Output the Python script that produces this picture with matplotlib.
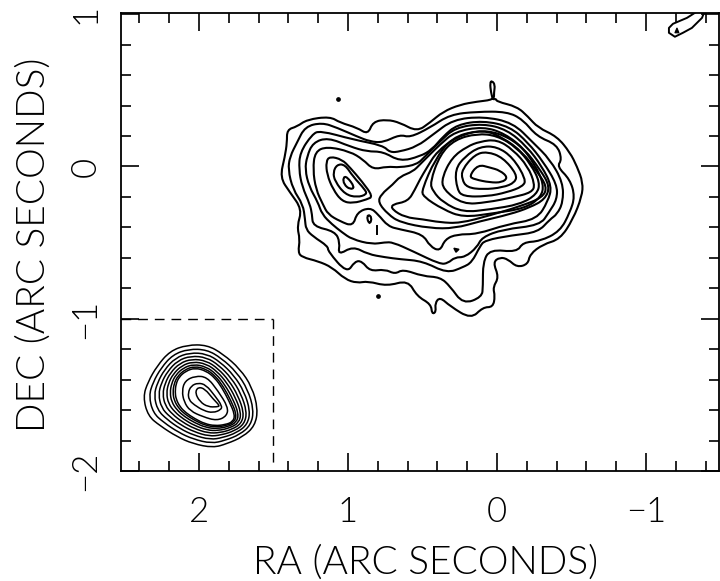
import numpy as np
import matplotlib
matplotlib.use('Agg')
import matplotlib.pyplot as plt
from matplotlib.patches import PathPatch
from matplotlib.path import Path
from matplotlib.ticker import MultipleLocator

# Contour traces, RA and DEC in arc seconds
ra_c1 = [.007, 0, -.134, -.208, -.275, -.403, -.490, -.537, -.577, -.570, -.510, -.423, -.309, -.221, -.208, -.134, -.074, -.020, .027, -.013, .027, .013, .027, .094, .174, .315, .382, .416, .409, .436, .443, .537, .597, .738, .866, .939, 1.020, 1.107, 1.201, 1.308, 1.335, 1.322, 1.342, 1.308, 1.389, 1.456, 1.423, 1.409, 1.409, 1.342, 1.275, 1.121, 1.053, .939, .866, .832, .738, .651, .537, .450, .362, .248, .134, .020, .020, .013, .034, .047, .040, .027]
dec_c1 = [.445, .426, .393, .328, .255, .197, .092, 0, -.105, -.197, -.347, -.478, -.511, -.576, -.642, -.662, -.609, -.596, -.629, -.727, -.793, -.852, -.924, -.924, -1.002, -.917, -.858, -.897, -.956, -.969, -.904, -.852, -.747, -.786, -.753, -.766, -.740, -.662, -.622, -.596, -.563, -.478, -.393, -.282, -.170, -.072, .066, .157, .242, .262, .308, .328, .288, .255, .210, .295, .308, .288, .229, .288, .360, .406, .426, .439, .485, .537, .563, .550, .485, .439]

ra_c2 = [1.389, 1.342, 1.288, 1.174, 1.074, .939, .852, .765, .651, .584, .450, .315, .134, -.067, -.174, -.268, -.403, -.436, -.403, -.490, -.523, -.490, -.423, -.289, -.174, -.134, .047, .094, .094, .101, .228, .315, .382, .497, .631, .684, .752, .852, .906, .953, 1.007, 1.134, 1.134, 1.235, 1.282, 1.288, 1.302, 1.369, 1.402]
dec_c2 = [.066, .157, .262, .288, .255, .197, .164, .157, .210, .190, .255, .341, .360, .360, .308, .197, .144, .046, 0, -.085, -.197, -.301, -.426, -.491, -.498, -.563, -.544, -.629, -.786, -.858, -.904, -.786, -.727, -.721, -.675, -.707, -.675, -.688, -.622, -.622, -.701, -.557, -.524, -.459, -.413, -.347, -.249, -.151, -.020]

ra_c3 = [1.329, 1.322, 1.241, 1.188, .966, .765, .718, .651, .537, .429, .295, .094, -.107, -.242, -.356, -.443, -.443, -.403, -.356, -.275, -.101, .081, .114, .168, .228, .336, .497, .651, .752, .866, .966, 1.067, 1.053, 1.087, 1.235, 1.241, 1.255, 1.308]
dec_c3 = [-.020, .092, .210, .236, .177, .138, .092, .098, .131, .210, .308, .328, .288, .157, .046, -.105, -.236, -.314, -.347, -.432, -.452, -.485, -.524, -.629, -.662, -.701, -.622, -.609, -.596, -.576, -.524, -.583, -.498, -.426, -.393, -.314, -.249, -.131]

ra_c4 = [1.288, 1.261, 1.201, 1.174, 1.107, 1.040, .973, .839, .752, .698, .564, .382, .329, .282, .215, .134, .101, -.040, -.289, -.349, -.403, -.403, -.309, -.208, -.087, .094, .268, .362, .436, .517, .651, .765, .872, .986, 1.134, 1.235, 1.275]
dec_c4 = [-.020, -.131, -.236, -.314, -.380, -.432, -.478, -.511, -.498, -.498, -.557, -.642, -.635, -.596, -.596, -.531, -.465, -.413, -.386, -.301, -.216, -.118, .033, .157, .262, .301, .275, .197, .111, .066, .033, .098, .098, .131, .190, .157, .066]

ra_c5 = [1.235, 1.215, 1.168, 1.134, 1.053, .966, .939, .852, .798, .731, .651, .497, .450, .382, .349, .268, .134, -.067, -.268, -.342, -.369, -.302, -.201, -.067, .094, .282, .382, .483, .537, .651, .738, .832, .899, .986, 1.141, 1.221]
dec_c5 = [-.020, -.151, -.249, -.314, -.360, -.393, -.301, -.269, -.314, -.393, -.413, -.445, -.524, -.557, -.478, -.445, -.445, -.380, -.347, -.229, -.131, 0, .131, .242, .282, .255, .164, .066, .013, -.007, 0, -.020, .046, .098, .131, .098]

ra_c6 = [.798, .778, .698, .651, .564, .517, .450, .382, .282, .094, -.054, -.188, -.289, -.356, -.322, -.221, -.087, .114, .282, .450, .651, .731]
dec_c6 = [-.236, -.183, -.118, -.066, -.033, .013, .079, .144, .229, .262, .216, .111, -.020, -.131, -.216, -.269, -.314, -.360, -.406, -.406, -.367, -.314]

ra_c7 = [.705, .597, .550, .517, .470, .403, .268, .094, -.040, -.174, -.268, -.336, -.309, -.154, .047, .248, .382, .497, .617, .705]
dec_c7 = [-.249, -.229, -.151, -.085, -.007, .098, .197, .242, .190, .092, -.033, -.131, -.203, -.262, -.321, -.373, -.367, -.347, -.334, -.282]

# closed rings around the eastern peak, outermost first
ra_r1 = [.503, .416, .302, .134, -.007, -.154, -.255, -.315, -.295, -.188, .027, .228, .362, .497]
dec_r1 = [-.151, .046, .190, .236, .223, .144, .013, -.118, -.203, -.275, -.308, -.334, -.282, -.197]
ra_r2 = [.450, .382, .282, .134, 0, -.134, -.228, -.289, -.268, -.154, .047, .228, .362, .429]
dec_r2 = [-.105, .079, .177, .216, .203, .124, .013, -.105, -.183, -.249, -.282, -.301, -.236, -.164]
ra_r3 = [.369, .302, .201, .114, 0, -.107, -.208, -.255, -.235, -.107, .067, .228, .362]
dec_r3 = [-.072, .059, .131, .164, .177, .111, 0, -.118, -.170, -.203, -.236, -.249, -.151]
ra_r4 = [.282, .215, .114, 0, -.107, -.195, -.174, -.067, .067, .228, .268]
dec_r4 = [-.020, .066, .131, .131, .059, -.085, -.131, -.170, -.197, -.197, -.151]
ra_r5 = [.235, .148, .067, -.040, -.134, -.121, -.040, .094, .201, .235]
dec_r5 = [-.020, .079, .098, .059, -.052, -.105, -.138, -.151, -.138, -.085]
ra_r6 = [.188, .127, .047, -.020, -.074, -.034, .047, .148]
dec_r6 = [-.066, .013, -.007, -.026, -.072, -.105, -.105, -.085]

# closed rings around the western peak
ra_w1 = [1.147, 1.121, 1.040, .986, .906, .832, .872, .966, 1.040, 1.100, 1.141]
dec_w1 = [.033, .066, .046, -.007, -.098, -.197, -.216, -.242, -.229, -.151, -.052]
ra_w2 = [1.100, 1.074, 1.020, .966, .886, .872, .939, 1.020, 1.087]
dec_w2 = [-.039, .013, .013, -.066, -.151, -.183, -.203, -.183, -.098]
ra_w3 = [1.033, 1.007, .953, .986, 1.027]
dec_w3 = [-.072, -.066, -.138, -.151, -.118]

# small isolated features
ra_s1 = [.866, .839, .852, .872]
dec_s1 = [-.314, -.334, -.380, -.347]
ra_s2 = [.289, .255, .275]
dec_s2 = [-.537, -.544, -.563]
ra_s3 = [-1.194, -1.208, -1.221]
dec_s3 = [.878, .910, .878]
ra_bar = [.805, .805]
dec_bar = [-.393, -.445]
ra_dots = [1.067, .798]
dec_dots = [.445, -.852]
ra_corner = [-1.349, -1.275, -1.181, -1.154, -1.154, -1.194, -1.248, -1.308, -1.376, -1.402]
dec_corner = [1.022, .976, .937, .910, .878, .852, .878, .910, .976, 1.041]

# Beam in the lower left corner, rings from the outside in
ra_b1 = [2.375, 2.342, 2.281, 2.194, 2.080, 1.946, 1.839, 1.724, 1.644, 1.604, 1.624, 1.704, 1.812, 1.906, 2.040, 2.147, 2.261, 2.342]
dec_b1 = [-1.513, -1.415, -1.310, -1.212, -1.172, -1.172, -1.231, -1.330, -1.448, -1.592, -1.703, -1.775, -1.821, -1.847, -1.821, -1.775, -1.703, -1.638]
ra_b2 = [2.336, 2.308, 2.254, 2.175, 2.070, 1.947, 1.849, 1.746, 1.672, 1.632, 1.651, 1.726, 1.827, 1.916, 2.038, 2.136, 2.237, 2.308]
dec_b2 = [-1.507, -1.417, -1.323, -1.236, -1.199, -1.203, -1.259, -1.352, -1.465, -1.599, -1.698, -1.761, -1.800, -1.819, -1.791, -1.747, -1.681, -1.618]
ra_b3 = [2.302, 2.278, 2.231, 2.158, 2.062, 1.948, 1.857, 1.765, 1.696, 1.656, 1.674, 1.745, 1.840, 1.924, 2.036, 2.127, 2.215, 2.278]
dec_b3 = [-1.502, -1.419, -1.334, -1.257, -1.223, -1.230, -1.284, -1.372, -1.479, -1.605, -1.694, -1.748, -1.781, -1.794, -1.765, -1.722, -1.661, -1.600]
ra_b4 = [2.272, 2.252, 2.210, 2.143, 2.054, 1.949, 1.865, 1.782, 1.718, 1.678, 1.695, 1.762, 1.851, 1.932, 2.034, 2.118, 2.197, 2.252]
dec_b4 = [-1.497, -1.421, -1.345, -1.275, -1.244, -1.254, -1.306, -1.390, -1.492, -1.611, -1.691, -1.737, -1.764, -1.772, -1.742, -1.700, -1.643, -1.585]
ra_b5 = [2.244, 2.227, 2.191, 2.129, 2.047, 1.950, 1.872, 1.798, 1.738, 1.698, 1.714, 1.778, 1.861, 1.939, 2.032, 2.110, 2.179, 2.227]
dec_b5 = [-1.493, -1.423, -1.354, -1.292, -1.264, -1.276, -1.327, -1.406, -1.504, -1.616, -1.687, -1.727, -1.749, -1.751, -1.721, -1.679, -1.627, -1.570]
ra_b6 = [2.218, 2.205, 2.173, 2.116, 2.041, 1.951, 1.878, 1.812, 1.756, 1.716, 1.732, 1.792, 1.871, 1.945, 2.031, 2.103, 2.163, 2.205]
dec_b6 = [-1.489, -1.424, -1.363, -1.308, -1.282, -1.296, -1.346, -1.421, -1.515, -1.620, -1.684, -1.717, -1.735, -1.732, -1.701, -1.660, -1.612, -1.557]
ra_b7 = [2.194, 2.184, 2.157, 2.104, 2.035, 1.952, 1.884, 1.826, 1.773, 1.733, 1.748, 1.806, 1.880, 1.951, 2.029, 2.097, 2.148, 2.184]
dec_b7 = [-1.485, -1.426, -1.370, -1.322, -1.299, -1.315, -1.363, -1.434, -1.525, -1.625, -1.681, -1.709, -1.722, -1.715, -1.683, -1.643, -1.599, -1.545]
ra_b8 = [2.175, 2.167, 2.143, 2.094, 2.030, 1.952, 1.889, 1.837, 1.787, 1.747, 1.762, 1.817, 1.887, 1.956, 2.028, 2.091, 2.136, 2.167]
dec_b8 = [-1.482, -1.427, -1.377, -1.334, -1.312, -1.330, -1.377, -1.445, -1.534, -1.628, -1.679, -1.702, -1.711, -1.701, -1.668, -1.629, -1.588, -1.535]
ra_b9 = [2.160, 2.154, 2.133, 2.087, 2.026, 1.953, 1.893, 1.845, 1.798, 1.758, 1.772, 1.825, 1.893, 1.960, 2.027, 2.087, 2.127, 2.154]
dec_b9 = [-1.480, -1.428, -1.382, -1.343, -1.323, -1.342, -1.388, -1.454, -1.540, -1.631, -1.677, -1.696, -1.703, -1.690, -1.657, -1.618, -1.579, -1.527]
ra_b10 = [2.114, 2.094, 2.026, 1.946, 1.872, 1.805, 1.812, 1.879, 1.973, 2.060, 2.100]
dec_b10 = [-1.474, -1.408, -1.376, -1.382, -1.474, -1.579, -1.638, -1.670, -1.644, -1.605, -1.546]
ra_b11 = [2.073, 2.053, 2.006, 1.953, 1.892, 1.845, 1.852, 1.906, 1.966, 2.033, 2.067]
dec_b11 = [-1.487, -1.441, -1.421, -1.434, -1.507, -1.572, -1.598, -1.618, -1.605, -1.565, -1.533]
ra_b12 = [2.026, 2.006, 1.959, 1.906, 1.859, 1.879, 1.939, 1.993]
dec_b12 = [-1.487, -1.448, -1.461, -1.526, -1.572, -1.579, -1.579, -1.546]

# Corner of the beam box
box_ra = 1.5
box_dec = -1.0

x_ticks = [2, 1, 0, -1]
x_labels = ['2', '1', '0', '\u22121']
y_ticks = [1, 0, -1, -2]
y_labels = ['1', '0', '\u22121', '\u22122']

source = [
    (ra_c1, dec_c1), (ra_c2, dec_c2), (ra_c3, dec_c3), (ra_c4, dec_c4), (ra_c5, dec_c5),
    (ra_c6, dec_c6), (ra_c7, dec_c7), (ra_r1, dec_r1), (ra_r2, dec_r2), (ra_r3, dec_r3),
    (ra_r4, dec_r4), (ra_r5, dec_r5), (ra_r6, dec_r6), (ra_w1, dec_w1), (ra_w2, dec_w2),
    (ra_w3, dec_w3), (ra_s1, dec_s1),
]
beam = [
    (ra_b1, dec_b1), (ra_b2, dec_b2), (ra_b3, dec_b3), (ra_b4, dec_b4), (ra_b5, dec_b5),
    (ra_b6, dec_b6), (ra_b7, dec_b7), (ra_b8, dec_b8), (ra_b9, dec_b9), (ra_b10, dec_b10),
    (ra_b11, dec_b11), (ra_b12, dec_b12),
]


def draw_ring(ax, ra, dec, lw):
    # closed ring, rounded with quadratic curves through the midpoints
    pts = np.column_stack([ra, dec])
    mids = (pts + np.roll(pts, -1, axis=0)) / 2
    verts = [mids[-1]]
    codes = [Path.MOVETO]
    for p, m in zip(pts, mids):
        verts += [p, m]
        codes += [Path.CURVE3, Path.CURVE3]
    ax.add_patch(PathPatch(Path(verts, codes), fill=False, edgecolor='black', lw=lw))


plt.rcParams['font.family'] = ['Lato', 'DejaVu Sans']
plt.rcParams['font.weight'] = 300
plt.rcParams['axes.labelweight'] = 300

fig = plt.figure(figsize=(7.2, 5.81), dpi=100)
ax = fig.add_axes([121 / 720, 1 - 471 / 581, 598 / 720, 458 / 581])

for ra, dec in source:
    draw_ring(ax, ra, dec, 1.5)
for ra, dec in beam:
    draw_ring(ax, ra, dec, 1.1)

ax.plot(ra_corner, dec_corner, color='black', lw=1.4)
ax.plot(ra_bar, dec_bar, color='black', lw=1.4)
ax.fill(ra_s2, dec_s2, color='black', lw=1)
ax.fill(ra_s3, dec_s3, color='black', lw=0.8)
ax.plot(ra_dots, dec_dots, ls='none', marker='o', ms=2.4, color='black')

# dashed box around the beam
ax.plot([2.52, box_ra], [box_dec, box_dec], color='black', lw=1, dashes=(7, 5))
ax.plot([box_ra, box_ra], [box_dec, -1.97], color='black', lw=1, dashes=(7, 5))

ax.set_xlim(2.523, -1.490)
ax.set_ylim(-1.991, 1.008)
ax.set_xticks(x_ticks)
ax.set_xticklabels(x_labels)
ax.set_yticks(y_ticks)
ax.set_yticklabels(y_labels, rotation=90, va='center')
ax.xaxis.set_minor_locator(MultipleLocator(0.2))
ax.yaxis.set_minor_locator(MultipleLocator(0.2))
ax.tick_params(which='major', direction='in', length=13, width=1.2, top=True, right=True, labelsize=25)
ax.tick_params(which='minor', direction='in', length=7, width=1.2, top=True, right=True)
ax.tick_params(axis='x', which='major', pad=18)
ax.tick_params(axis='y', which='major', pad=14)
for spine in ax.spines.values():
    spine.set_linewidth(1.3)

ax.set_xlabel('RA (ARC SECONDS)', fontsize=28)
ax.set_ylabel('DEC (ARC SECONDS)', fontsize=28)
ax.xaxis.set_label_coords(0.51, -0.16)
ax.yaxis.set_label_coords(-0.116, 0.493)

fig.savefig('out.png', dpi=100)
